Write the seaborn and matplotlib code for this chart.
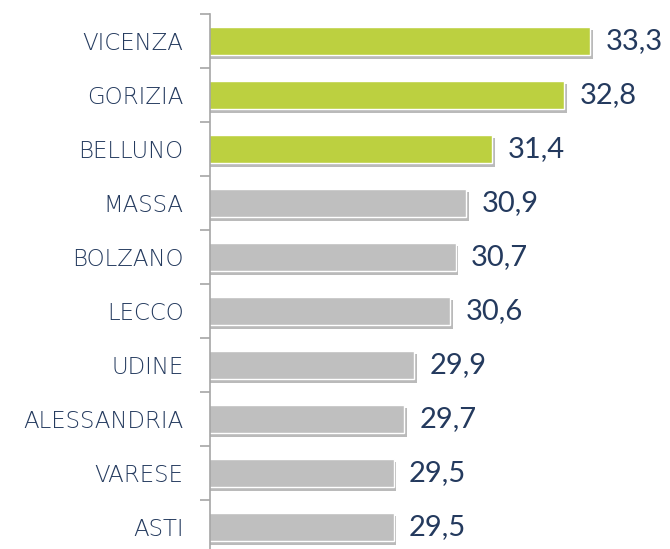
import matplotlib
matplotlib.use("Agg")
import matplotlib.pyplot as plt
import matplotlib.patheffects as pe
from matplotlib.ticker import FixedLocator
import seaborn as sns
import pandas as pd
import numpy as np

provinces = ["VICENZA", "GORIZIA", "BELLUNO", "MASSA", "BOLZANO", "LECCO",
             "UDINE", "ALESSANDRIA", "VARESE", "ASTI"]
values = [33.3, 32.8, 31.4, 30.9, 30.7, 30.6, 29.9, 29.7, 29.5, 29.5]
group = ["top", "top", "top", "other", "other", "other", "other", "other", "other", "other"]

df = pd.DataFrame({"provincia": provinces, "valore": values, "gruppo": group})

sns.set_theme(style="white")
plt.rcParams["font.family"] = ["DejaVu Sans"]

text_color = "#243a5e"
fig = plt.figure(figsize=(6.7, 5.49), dpi=100)
ax = fig.add_axes([210 / 670, -5 / 549, 460 / 670, 540 / 549])

sns.barplot(data=df, y="provincia", x="valore", hue="gruppo",
            palette={"top": "#bcd040", "other": "#bfbfbf"},
            orient="h", width=0.52, dodge=False, legend=False, ax=ax,
            saturation=1)

for p in ax.patches:
    p.set_path_effects([pe.SimplePatchShadow(offset=(2, -2.5), shadow_rgbFace="#666666", alpha=0.45),
                        pe.Normal()])

ax.set_xlim(25.95, 25.95 + 460 / 51.7)
ax.set_ylim(len(provinces) - 0.5, -0.5)

for i, v in enumerate(values):
    ax.text(v + 0.3, i, f"{v:.1f}".replace(".", ","), va="center", ha="left",
            fontsize=21, color=text_color, fontfamily=["Lato", "DejaVu Sans"])

ax.set_xlabel("")
ax.set_ylabel("")
ax.set_xticks([])
for s in ["top", "right", "bottom"]:
    ax.spines[s].set_visible(False)
ax.spines["left"].set_color("#a6a6a6")
ax.spines["left"].set_linewidth(1.2)

ax.tick_params(axis="y", which="major", length=0, pad=19, labelsize=16.5, labelcolor=text_color)
for lab in ax.get_yticklabels():
    lab.set_fontweight("light")
ax.yaxis.set_minor_locator(FixedLocator(np.arange(-0.5, len(provinces), 1.0)))
ax.tick_params(axis="y", which="minor", length=7, width=1.2, color="#a6a6a6", left=True)

fig.savefig("out.png", dpi=100)
